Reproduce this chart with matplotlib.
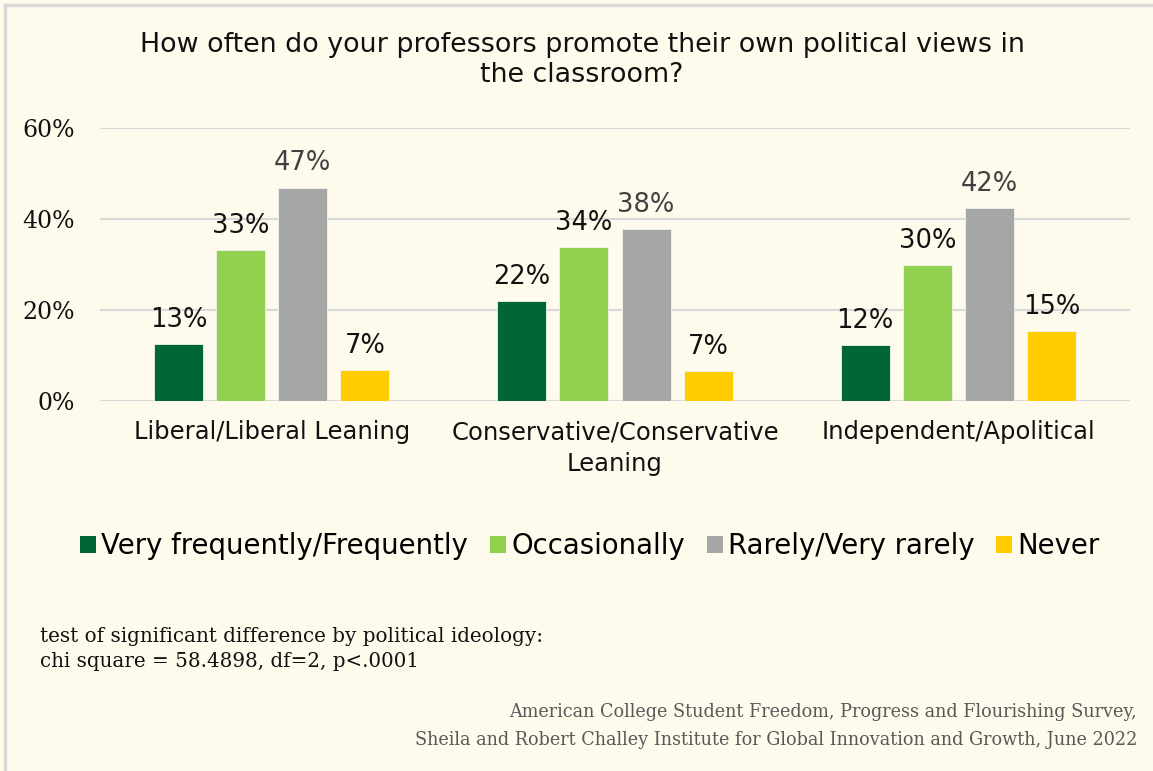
import matplotlib
matplotlib.use("Agg")
import matplotlib.pyplot as plt
from matplotlib.patches import Rectangle, Patch
from matplotlib.ticker import FuncFormatter
import numpy as np

# Survey data
categories = ["Liberal/Liberal Leaning", "Conservative/Conservative\nLeaning", "Independent/Apolitical"]
series_names = ["Very frequently/Frequently", "Occasionally", "Rarely/Very rarely", "Never"]
very_frequently = [12.6, 22.0, 12.3]
occasionally = [33.2, 33.8, 29.9]
rarely = [46.9, 37.8, 42.4]
never = [6.8, 6.6, 15.4]
y_ticks = [0, 20, 40, 60]

title = "How often do your professors promote their own political views in\nthe classroom?"
note = "test of significant difference by political ideology:\nchi square = 58.4898, df=2, p<.0001"
source = ("American College Student Freedom, Progress and Flourishing Survey,\n"
          "Sheila and Robert Challey Institute for Global Innovation and Growth, June 2022")

colors = ["#006633", "#92D050", "#A6A6A6", "#FFCC00"]
label_colors = ["#111111", "#111111", "#404040", "#111111"]
bg = "#FEFAEC"
sans = ["DejaVu Sans"]
serif = ["DejaVu Serif"]

W, H = 1153, 771
fig = plt.figure(figsize=(W / 100, H / 100), dpi=100)
fig.patch.set_facecolor(bg)

# thin outer frame (open to the right and bottom)
fig.patches.append(Rectangle((5 / W, -0.05), 1.2, 1 - 5 / H + 0.05,
                             transform=fig.transFigure, fill=False,
                             edgecolor="#D9D9D9", linewidth=2.5))

ax = fig.add_axes([100 / W, 1 - 401 / H, 1030 / W, 273 / H])
ax.set_facecolor(bg)

series = [very_frequently, occasionally, rarely, never]
x = np.arange(len(categories))
pitch = 0.181
width = 0.143
for i, (vals, col, lcol) in enumerate(zip(series, colors, label_colors)):
    pos = x + (i - 1.5) * pitch
    bars = ax.bar(pos, vals, width=width, color=col, edgecolor="#F2F2F2",
                  linewidth=0.6, zorder=3)
    for b, v in zip(bars, vals):
        ax.annotate(f"{v:.0f}%", (b.get_x() + b.get_width() / 2, v),
                    xytext=(0, 8), textcoords="offset points",
                    ha="center", va="bottom", fontsize=18.5,
                    color=lcol, family=sans)

ax.set_xlim(-0.5, 2.5)
ax.set_ylim(0, 60)
ax.set_yticks(y_ticks)
ax.yaxis.set_major_formatter(FuncFormatter(lambda v, p: f"{v:.0f}%"))
ax.grid(axis="y", color="#D9D9D9", linewidth=1.5, zorder=0)
for s in ax.spines.values():
    s.set_visible(False)
ax.tick_params(axis="y", length=0, pad=18, labelsize=17, labelcolor="#111111")
for t in ax.get_yticklabels():
    t.set_family(serif)
ax.set_xticks(x)
ax.set_xticklabels(categories, fontsize=17.5, family=sans, color="#111111",
                   linespacing=1.4)
ax.tick_params(axis="x", length=0, pad=14)

fig.text(582 / W, 1 - 60 / H, title, ha="center", va="center",
         fontsize=19.4, family=sans, color="#111111", linespacing=1.15)

handles = [Patch(facecolor=c, edgecolor="none") for c in colors]
fig.legend(handles, series_names, loc="center", bbox_to_anchor=(590 / W, 1 - 546 / H),
           ncol=4, frameon=False, handlelength=0.58, handleheight=0.58,
           handletextpad=0.18, columnspacing=0.8, prop={"family": sans, "size": 19.8})

fig.text(40 / W, 1 - 649 / H, note, ha="left", va="center", fontsize=14.3,
         family=serif, color="#111111", linespacing=1.45)
fig.text(1137 / W, 1 - 726 / H, source, ha="right", va="center", fontsize=12.7,
         family=serif, color="#595959", linespacing=1.65)

fig.savefig("out.png", dpi=100, facecolor=bg)
